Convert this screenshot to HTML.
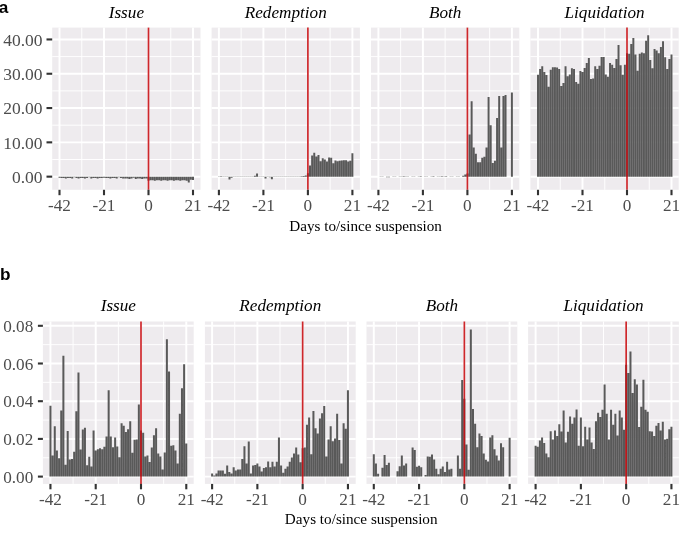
<!DOCTYPE html>
<html lang="en"><head><meta charset="utf-8"><title>Figure</title>
<style>
html,body{margin:0;padding:0;background:#fff;}
body{width:685px;height:535px;overflow:hidden;}
svg{display:block;}
.tl{font-family:"Liberation Serif",serif;font-size:17.2px;fill:#4D4D4D;}
.st{font-family:"Liberation Serif",serif;font-style:italic;font-size:17px;fill:#000;}
.at{font-family:"Liberation Serif",serif;font-size:15.2px;fill:#000;}
.pl{font-family:"Liberation Sans",sans-serif;font-weight:bold;font-size:17.2px;fill:#000;}
</style></head><body>
<svg width="685" height="535" viewBox="0 0 685 535">
<rect width="685" height="535" fill="#fff"/>
<rect x="52.2" y="27.6" width="148.3" height="162.2" fill="#EEEBEE"/>
<line x1="52.2" x2="200.5" y1="159.5" y2="159.5" stroke="#fff" stroke-width="0.95"/>
<line x1="52.2" x2="200.5" y1="125.2" y2="125.2" stroke="#fff" stroke-width="0.95"/>
<line x1="52.2" x2="200.5" y1="90.9" y2="90.9" stroke="#fff" stroke-width="0.95"/>
<line x1="52.2" x2="200.5" y1="56.6" y2="56.6" stroke="#fff" stroke-width="0.95"/>
<line x1="81.75" x2="81.75" y1="27.6" y2="189.8" stroke="#fff" stroke-width="0.95"/>
<line x1="126.25" x2="126.25" y1="27.6" y2="189.8" stroke="#fff" stroke-width="0.95"/>
<line x1="170.75" x2="170.75" y1="27.6" y2="189.8" stroke="#fff" stroke-width="0.95"/>
<line x1="52.2" x2="200.5" y1="176.65" y2="176.65" stroke="#fff" stroke-width="1.95"/>
<line x1="52.2" x2="200.5" y1="142.35" y2="142.35" stroke="#fff" stroke-width="1.95"/>
<line x1="52.2" x2="200.5" y1="108.05" y2="108.05" stroke="#fff" stroke-width="1.95"/>
<line x1="52.2" x2="200.5" y1="73.75" y2="73.75" stroke="#fff" stroke-width="1.95"/>
<line x1="52.2" x2="200.5" y1="39.45" y2="39.45" stroke="#fff" stroke-width="1.95"/>
<line x1="59.5" x2="59.5" y1="27.6" y2="189.8" stroke="#fff" stroke-width="1.95"/>
<line x1="104" x2="104" y1="27.6" y2="189.8" stroke="#fff" stroke-width="1.95"/>
<line x1="148.5" x2="148.5" y1="27.6" y2="189.8" stroke="#fff" stroke-width="1.95"/>
<line x1="193" x2="193" y1="27.6" y2="189.8" stroke="#fff" stroke-width="1.95"/>
<path d="M58.52 176.65h1.97v1.1h-1.97zM60.64 176.65h1.97v1.3h-1.97zM62.75 176.65h1.97v1.3h-1.97zM64.87 176.65h1.97v1.78h-1.97zM66.99 176.65h1.97v1.3h-1.97zM69.11 176.65h1.97v1.3h-1.97zM71.23 176.65h1.97v1.78h-1.97zM73.35 176.65h1.97v0.62h-1.97zM75.47 176.65h1.97v1.3h-1.97zM77.59 176.65h1.97v1.78h-1.97zM79.71 176.65h1.97v1.3h-1.97zM81.83 176.65h1.97v1.3h-1.97zM83.94 176.65h1.97v1.78h-1.97zM86.06 176.65h1.97v1.3h-1.97zM88.18 176.65h1.97v0.62h-1.97zM90.3 176.65h1.97v1.78h-1.97zM92.42 176.65h1.97v1.3h-1.97zM94.54 176.65h1.97v1.3h-1.97zM96.66 176.65h1.97v1.78h-1.97zM98.78 176.65h1.97v1.3h-1.97zM100.9 176.65h1.97v1.3h-1.97zM103.02 176.65h1.97v1.1h-1.97zM105.13 176.65h1.97v1.3h-1.97zM107.25 176.65h1.97v1.3h-1.97zM109.37 176.65h1.97v1.78h-1.97zM111.49 176.65h1.97v1.3h-1.97zM113.61 176.65h1.97v1.3h-1.97zM115.73 176.65h1.97v1.78h-1.97zM117.85 176.65h1.97v0.62h-1.97zM119.97 176.65h1.97v1.3h-1.97zM122.09 176.65h1.97v1.78h-1.97zM124.21 176.65h1.97v1.82h-1.97zM126.32 176.65h1.97v1.82h-1.97zM128.44 176.65h1.97v2.3h-1.97zM130.56 176.65h1.97v1.82h-1.97zM132.68 176.65h1.97v1.13h-1.97zM134.8 176.65h1.97v2.3h-1.97zM136.92 176.65h1.97v1.82h-1.97zM139.04 176.65h1.97v1.82h-1.97zM141.16 176.65h1.97v2.3h-1.97zM143.28 176.65h1.97v1.82h-1.97zM145.4 176.65h1.97v1.82h-1.97zM147.51 176.65h1.97v4.12h-1.97zM149.63 176.65h1.97v3.6h-1.97zM151.75 176.65h1.97v3.6h-1.97zM153.87 176.65h1.97v4.12h-1.97zM155.99 176.65h1.97v3.6h-1.97zM158.11 176.65h1.97v3.6h-1.97zM160.23 176.65h1.97v4.12h-1.97zM162.35 176.65h1.97v3.6h-1.97zM164.47 176.65h1.97v3.6h-1.97zM166.59 176.65h1.97v4.12h-1.97zM168.7 176.65h1.97v3.6h-1.97zM170.82 176.65h1.97v3.6h-1.97zM172.94 176.65h1.97v4.12h-1.97zM175.06 176.65h1.97v3.6h-1.97zM177.18 176.65h1.97v3.6h-1.97zM179.3 176.65h1.97v4.12h-1.97zM181.42 176.65h1.97v3.6h-1.97zM183.54 176.65h1.97v3.6h-1.97zM185.66 176.65h1.97v4.12h-1.97zM187.78 176.65h1.97v5.83h-1.97zM189.89 176.65h1.97v3.09h-1.97zM192.01 176.65h1.97v3.43h-1.97z" fill="#595959"/>
<line x1="148.5" x2="148.5" y1="27.6" y2="189.8" stroke="#C80F14" stroke-opacity="0.9" stroke-width="1.7"/>
<line x1="59.5" x2="59.5" y1="189.8" y2="195.2" stroke="#333333" stroke-width="2.1"/>
<text transform="translate(59.5 211) scale(1.0 1.0)" text-anchor="middle" class="tl">-42</text>
<line x1="104" x2="104" y1="189.8" y2="195.2" stroke="#333333" stroke-width="2.1"/>
<text transform="translate(104 211) scale(1.0 1.0)" text-anchor="middle" class="tl">-21</text>
<line x1="148.5" x2="148.5" y1="189.8" y2="195.2" stroke="#333333" stroke-width="2.1"/>
<text transform="translate(148.5 211) scale(1.0 1.0)" text-anchor="middle" class="tl">0</text>
<line x1="193" x2="193" y1="189.8" y2="195.2" stroke="#333333" stroke-width="2.1"/>
<text transform="translate(193 211) scale(1.0 1.0)" text-anchor="middle" class="tl">21</text>
<text transform="translate(126.35 17.6) scale(1.01 1.02)" text-anchor="middle" class="st">Issue</text>
<rect x="211.6" y="27.6" width="148.3" height="162.2" fill="#EEEBEE"/>
<line x1="211.6" x2="359.9" y1="159.5" y2="159.5" stroke="#fff" stroke-width="0.95"/>
<line x1="211.6" x2="359.9" y1="125.2" y2="125.2" stroke="#fff" stroke-width="0.95"/>
<line x1="211.6" x2="359.9" y1="90.9" y2="90.9" stroke="#fff" stroke-width="0.95"/>
<line x1="211.6" x2="359.9" y1="56.6" y2="56.6" stroke="#fff" stroke-width="0.95"/>
<line x1="241.15" x2="241.15" y1="27.6" y2="189.8" stroke="#fff" stroke-width="0.95"/>
<line x1="285.65" x2="285.65" y1="27.6" y2="189.8" stroke="#fff" stroke-width="0.95"/>
<line x1="330.15" x2="330.15" y1="27.6" y2="189.8" stroke="#fff" stroke-width="0.95"/>
<line x1="211.6" x2="359.9" y1="176.65" y2="176.65" stroke="#fff" stroke-width="1.95"/>
<line x1="211.6" x2="359.9" y1="142.35" y2="142.35" stroke="#fff" stroke-width="1.95"/>
<line x1="211.6" x2="359.9" y1="108.05" y2="108.05" stroke="#fff" stroke-width="1.95"/>
<line x1="211.6" x2="359.9" y1="73.75" y2="73.75" stroke="#fff" stroke-width="1.95"/>
<line x1="211.6" x2="359.9" y1="39.45" y2="39.45" stroke="#fff" stroke-width="1.95"/>
<line x1="218.9" x2="218.9" y1="27.6" y2="189.8" stroke="#fff" stroke-width="1.95"/>
<line x1="263.4" x2="263.4" y1="27.6" y2="189.8" stroke="#fff" stroke-width="1.95"/>
<line x1="307.9" x2="307.9" y1="27.6" y2="189.8" stroke="#fff" stroke-width="1.95"/>
<line x1="352.4" x2="352.4" y1="27.6" y2="189.8" stroke="#fff" stroke-width="1.95"/>
<path d="M217.92 176.38h1.97v0.27h-1.97zM220.04 176.31h1.97v0.34h-1.97zM222.15 176.65h1.97v0.34h-1.97zM224.27 176.38h1.97v0.27h-1.97zM226.39 176.38h1.97v0.27h-1.97zM228.51 176.65h1.97v2.74h-1.97zM230.63 176.65h1.97v1.03h-1.97zM232.75 176.38h1.97v0.27h-1.97zM234.87 176.38h1.97v0.27h-1.97zM236.99 176.38h1.97v0.27h-1.97zM239.11 176.65h1.97v0.27h-1.97zM241.23 176.38h1.97v0.27h-1.97zM243.34 176.38h1.97v0.27h-1.97zM245.46 176.38h1.97v0.27h-1.97zM247.58 176.65h1.97v0.27h-1.97zM249.7 176.38h1.97v0.27h-1.97zM251.82 176.38h1.97v0.27h-1.97zM253.94 175.79h1.97v0.86h-1.97zM256.06 173.56h1.97v3.09h-1.97zM258.18 176.38h1.97v0.27h-1.97zM260.3 176.38h1.97v0.27h-1.97zM262.42 176.38h1.97v0.27h-1.97zM264.53 176.65h1.97v1.89h-1.97zM266.65 176.38h1.97v0.27h-1.97zM268.77 176.65h1.97v0.69h-1.97zM270.89 176.65h1.97v2.57h-1.97zM273.01 176.65h1.97v0.27h-1.97zM275.13 176.38h1.97v0.27h-1.97zM277.25 176.38h1.97v0.27h-1.97zM279.37 176.38h1.97v0.27h-1.97zM281.49 176.65h1.97v0.27h-1.97zM283.61 176.38h1.97v0.27h-1.97zM285.72 176.38h1.97v0.27h-1.97zM287.84 176.38h1.97v0.27h-1.97zM289.96 176.65h1.97v0.27h-1.97zM292.08 176.38h1.97v0.27h-1.97zM294.2 176.38h1.97v0.27h-1.97zM296.32 176.38h1.97v0.27h-1.97zM298.44 176.65h1.97v0.27h-1.97zM300.56 176.24h1.97v0.41h-1.97zM302.68 176.03h1.97v0.62h-1.97zM304.8 175.62h1.97v1.03h-1.97zM306.91 173.22h1.97v3.43h-1.97zM309.03 165.5h1.97v11.15h-1.97zM311.15 155.38h1.97v21.27h-1.97zM313.27 152.64h1.97v24.01h-1.97zM315.39 156.41h1.97v20.24h-1.97zM317.51 155.04h1.97v21.61h-1.97zM319.63 161.22h1.97v15.44h-1.97zM321.75 158.3h1.97v18.35h-1.97zM323.87 159.5h1.97v17.15h-1.97zM325.99 161.56h1.97v15.09h-1.97zM328.1 157.44h1.97v19.21h-1.97zM330.22 157.78h1.97v18.87h-1.97zM332.34 163.27h1.97v13.38h-1.97zM334.46 160.53h1.97v16.12h-1.97zM336.58 161.22h1.97v15.44h-1.97zM338.7 160.87h1.97v15.78h-1.97zM340.82 160.53h1.97v16.12h-1.97zM342.94 160.36h1.97v16.29h-1.97zM345.06 160.19h1.97v16.46h-1.97zM347.18 161.56h1.97v15.09h-1.97zM349.29 160.87h1.97v15.78h-1.97zM351.41 153.33h1.97v23.32h-1.97z" fill="#595959"/>
<line x1="307.9" x2="307.9" y1="27.6" y2="189.8" stroke="#C80F14" stroke-opacity="0.9" stroke-width="1.7"/>
<line x1="218.9" x2="218.9" y1="189.8" y2="195.2" stroke="#333333" stroke-width="2.1"/>
<text transform="translate(218.9 211) scale(1.0 1.0)" text-anchor="middle" class="tl">-42</text>
<line x1="263.4" x2="263.4" y1="189.8" y2="195.2" stroke="#333333" stroke-width="2.1"/>
<text transform="translate(263.4 211) scale(1.0 1.0)" text-anchor="middle" class="tl">-21</text>
<line x1="307.9" x2="307.9" y1="189.8" y2="195.2" stroke="#333333" stroke-width="2.1"/>
<text transform="translate(307.9 211) scale(1.0 1.0)" text-anchor="middle" class="tl">0</text>
<line x1="352.4" x2="352.4" y1="189.8" y2="195.2" stroke="#333333" stroke-width="2.1"/>
<text transform="translate(352.4 211) scale(1.0 1.0)" text-anchor="middle" class="tl">21</text>
<text transform="translate(285.75 17.6) scale(1.01 1.02)" text-anchor="middle" class="st">Redemption</text>
<rect x="371" y="27.6" width="148.3" height="162.2" fill="#EEEBEE"/>
<line x1="371" x2="519.3" y1="159.5" y2="159.5" stroke="#fff" stroke-width="0.95"/>
<line x1="371" x2="519.3" y1="125.2" y2="125.2" stroke="#fff" stroke-width="0.95"/>
<line x1="371" x2="519.3" y1="90.9" y2="90.9" stroke="#fff" stroke-width="0.95"/>
<line x1="371" x2="519.3" y1="56.6" y2="56.6" stroke="#fff" stroke-width="0.95"/>
<line x1="400.65" x2="400.65" y1="27.6" y2="189.8" stroke="#fff" stroke-width="0.95"/>
<line x1="445.15" x2="445.15" y1="27.6" y2="189.8" stroke="#fff" stroke-width="0.95"/>
<line x1="489.65" x2="489.65" y1="27.6" y2="189.8" stroke="#fff" stroke-width="0.95"/>
<line x1="371" x2="519.3" y1="176.65" y2="176.65" stroke="#fff" stroke-width="1.95"/>
<line x1="371" x2="519.3" y1="142.35" y2="142.35" stroke="#fff" stroke-width="1.95"/>
<line x1="371" x2="519.3" y1="108.05" y2="108.05" stroke="#fff" stroke-width="1.95"/>
<line x1="371" x2="519.3" y1="73.75" y2="73.75" stroke="#fff" stroke-width="1.95"/>
<line x1="371" x2="519.3" y1="39.45" y2="39.45" stroke="#fff" stroke-width="1.95"/>
<line x1="378.4" x2="378.4" y1="27.6" y2="189.8" stroke="#fff" stroke-width="1.95"/>
<line x1="422.9" x2="422.9" y1="27.6" y2="189.8" stroke="#fff" stroke-width="1.95"/>
<line x1="467.4" x2="467.4" y1="27.6" y2="189.8" stroke="#fff" stroke-width="1.95"/>
<line x1="511.9" x2="511.9" y1="27.6" y2="189.8" stroke="#fff" stroke-width="1.95"/>
<path d="M377.42 176.65h1.97v0.21h-1.97zM379.54 176.44h1.97v0.21h-1.97zM381.65 176.44h1.97v0.21h-1.97zM383.77 176.65h1.97v0.21h-1.97zM385.89 176.65h1.97v0.69h-1.97zM388.01 176.65h1.97v0.51h-1.97zM390.13 176.65h1.97v0.21h-1.97zM392.25 176.44h1.97v0.21h-1.97zM394.37 176.44h1.97v0.21h-1.97zM396.49 176.65h1.97v0.21h-1.97zM398.61 176.44h1.97v0.21h-1.97zM400.73 176.44h1.97v0.21h-1.97zM402.84 176.24h1.97v0.41h-1.97zM404.96 176.44h1.97v0.21h-1.97zM407.08 176.65h1.97v0.34h-1.97zM409.2 176.65h1.97v0.21h-1.97zM411.32 176.44h1.97v0.21h-1.97zM413.44 176.44h1.97v0.21h-1.97zM415.56 176.65h1.97v0.21h-1.97zM417.68 176.44h1.97v0.21h-1.97zM419.8 176.31h1.97v0.34h-1.97zM421.92 176.65h1.97v0.21h-1.97zM424.03 176.44h1.97v0.21h-1.97zM426.15 176.44h1.97v0.21h-1.97zM428.27 176.65h1.97v0.21h-1.97zM430.39 176.44h1.97v0.21h-1.97zM432.51 176.24h1.97v0.41h-1.97zM434.63 176.65h1.97v0.21h-1.97zM436.75 176.44h1.97v0.21h-1.97zM438.87 176.44h1.97v0.21h-1.97zM440.99 176.31h1.97v0.34h-1.97zM443.11 176.44h1.97v0.21h-1.97zM445.22 176.14h1.97v0.51h-1.97zM447.34 176.65h1.97v0.21h-1.97zM449.46 176.44h1.97v0.21h-1.97zM451.58 176.44h1.97v0.21h-1.97zM453.7 176.65h1.97v0.21h-1.97zM455.82 176.44h1.97v0.21h-1.97zM457.94 176.44h1.97v0.21h-1.97zM460.06 176.65h1.97v0.21h-1.97zM462.18 175.79h1.97v0.86h-1.97zM464.3 174.42h1.97v2.23h-1.97zM466.41 173.56h1.97v3.09h-1.97zM468.53 134.46h1.97v42.19h-1.97zM470.65 101.19h1.97v75.46h-1.97zM472.77 147.5h1.97v29.16h-1.97zM474.89 153.67h1.97v22.98h-1.97zM477.01 162.24h1.97v14.41h-1.97zM479.13 162.24h1.97v14.41h-1.97zM481.25 157.78h1.97v18.87h-1.97zM483.37 156.76h1.97v19.89h-1.97zM485.49 147.5h1.97v29.16h-1.97zM487.6 97.07h1.97v79.58h-1.97zM489.72 125.2h1.97v51.45h-1.97zM491.84 162.93h1.97v13.72h-1.97zM493.96 160.87h1.97v15.78h-1.97zM496.08 118h1.97v58.65h-1.97zM498.2 96.05h1.97v80.61h-1.97zM500.32 147.5h1.97v29.16h-1.97zM502.44 96.05h1.97v80.61h-1.97zM504.56 95.02h1.97v81.63h-1.97zM510.91 92.61h1.97v84.04h-1.97z" fill="#595959"/>
<line x1="467.4" x2="467.4" y1="27.6" y2="189.8" stroke="#C80F14" stroke-opacity="0.9" stroke-width="1.7"/>
<line x1="378.4" x2="378.4" y1="189.8" y2="195.2" stroke="#333333" stroke-width="2.1"/>
<text transform="translate(378.4 211) scale(1.0 1.0)" text-anchor="middle" class="tl">-42</text>
<line x1="422.9" x2="422.9" y1="189.8" y2="195.2" stroke="#333333" stroke-width="2.1"/>
<text transform="translate(422.9 211) scale(1.0 1.0)" text-anchor="middle" class="tl">-21</text>
<line x1="467.4" x2="467.4" y1="189.8" y2="195.2" stroke="#333333" stroke-width="2.1"/>
<text transform="translate(467.4 211) scale(1.0 1.0)" text-anchor="middle" class="tl">0</text>
<line x1="511.9" x2="511.9" y1="189.8" y2="195.2" stroke="#333333" stroke-width="2.1"/>
<text transform="translate(511.9 211) scale(1.0 1.0)" text-anchor="middle" class="tl">21</text>
<text transform="translate(445.15 17.6) scale(1.01 1.02)" text-anchor="middle" class="st">Both</text>
<rect x="530.4" y="27.6" width="148.3" height="162.2" fill="#EEEBEE"/>
<line x1="530.4" x2="678.7" y1="159.5" y2="159.5" stroke="#fff" stroke-width="0.95"/>
<line x1="530.4" x2="678.7" y1="125.2" y2="125.2" stroke="#fff" stroke-width="0.95"/>
<line x1="530.4" x2="678.7" y1="90.9" y2="90.9" stroke="#fff" stroke-width="0.95"/>
<line x1="530.4" x2="678.7" y1="56.6" y2="56.6" stroke="#fff" stroke-width="0.95"/>
<line x1="560.25" x2="560.25" y1="27.6" y2="189.8" stroke="#fff" stroke-width="0.95"/>
<line x1="604.75" x2="604.75" y1="27.6" y2="189.8" stroke="#fff" stroke-width="0.95"/>
<line x1="649.25" x2="649.25" y1="27.6" y2="189.8" stroke="#fff" stroke-width="0.95"/>
<line x1="530.4" x2="678.7" y1="176.65" y2="176.65" stroke="#fff" stroke-width="1.95"/>
<line x1="530.4" x2="678.7" y1="142.35" y2="142.35" stroke="#fff" stroke-width="1.95"/>
<line x1="530.4" x2="678.7" y1="108.05" y2="108.05" stroke="#fff" stroke-width="1.95"/>
<line x1="530.4" x2="678.7" y1="73.75" y2="73.75" stroke="#fff" stroke-width="1.95"/>
<line x1="530.4" x2="678.7" y1="39.45" y2="39.45" stroke="#fff" stroke-width="1.95"/>
<line x1="538" x2="538" y1="27.6" y2="189.8" stroke="#fff" stroke-width="1.95"/>
<line x1="582.5" x2="582.5" y1="27.6" y2="189.8" stroke="#fff" stroke-width="1.95"/>
<line x1="627" x2="627" y1="27.6" y2="189.8" stroke="#fff" stroke-width="1.95"/>
<line x1="671.5" x2="671.5" y1="27.6" y2="189.8" stroke="#fff" stroke-width="1.95"/>
<path d="M537.02 74.78h1.97v101.87h-1.97zM539.14 68.95h1.97v107.7h-1.97zM541.25 66.2h1.97v110.45h-1.97zM543.37 72.03h1.97v104.62h-1.97zM545.49 75.12h1.97v101.53h-1.97zM547.61 86.78h1.97v89.87h-1.97zM549.73 69.63h1.97v107.02h-1.97zM551.85 67.23h1.97v109.42h-1.97zM553.97 67.23h1.97v109.42h-1.97zM556.09 67.58h1.97v109.07h-1.97zM558.21 68.95h1.97v107.7h-1.97zM560.33 86.1h1.97v90.55h-1.97zM562.44 83.01h1.97v93.64h-1.97zM564.56 66.2h1.97v110.45h-1.97zM566.68 76.15h1.97v100.5h-1.97zM568.8 74.44h1.97v102.21h-1.97zM570.92 68.26h1.97v108.39h-1.97zM573.04 68.95h1.97v107.7h-1.97zM575.16 81.98h1.97v94.67h-1.97zM577.28 83.7h1.97v92.95h-1.97zM579.4 71.01h1.97v105.64h-1.97zM581.52 72.03h1.97v104.62h-1.97zM583.63 67.92h1.97v108.73h-1.97zM585.75 63.12h1.97v113.53h-1.97zM587.87 57.97h1.97v118.68h-1.97zM589.99 78.89h1.97v97.76h-1.97zM592.11 78.55h1.97v98.1h-1.97zM594.23 66.2h1.97v110.45h-1.97zM596.35 68.95h1.97v107.7h-1.97zM598.47 65.86h1.97v110.79h-1.97zM600.59 56.94h1.97v119.71h-1.97zM602.71 56.94h1.97v119.71h-1.97zM604.82 74.44h1.97v102.21h-1.97zM606.94 76.84h1.97v99.81h-1.97zM609.06 63.12h1.97v113.53h-1.97zM611.18 64.83h1.97v111.82h-1.97zM613.3 67.92h1.97v108.73h-1.97zM615.42 59h1.97v117.65h-1.97zM617.54 44.94h1.97v131.71h-1.97zM619.66 65.17h1.97v111.48h-1.97zM621.78 74.78h1.97v101.87h-1.97zM623.9 64.83h1.97v111.82h-1.97zM626.01 53.17h1.97v123.48h-1.97zM628.13 53.86h1.97v122.79h-1.97zM630.25 43.91h1.97v132.74h-1.97zM632.37 38.08h1.97v138.57h-1.97zM634.49 54.54h1.97v122.11h-1.97zM636.61 70.66h1.97v105.99h-1.97zM638.73 53.86h1.97v122.79h-1.97zM640.85 52.48h1.97v124.17h-1.97zM642.97 53.17h1.97v123.48h-1.97zM645.09 40.82h1.97v135.83h-1.97zM647.2 35.33h1.97v141.32h-1.97zM649.32 60.03h1.97v116.62h-1.97zM651.44 68.26h1.97v108.39h-1.97zM653.56 49.05h1.97v127.6h-1.97zM655.68 50.43h1.97v126.22h-1.97zM657.8 53.17h1.97v123.48h-1.97zM659.92 47h1.97v129.65h-1.97zM662.04 41.16h1.97v135.49h-1.97zM664.16 57.29h1.97v119.36h-1.97zM666.28 68.95h1.97v107.7h-1.97zM668.39 59h1.97v117.65h-1.97zM670.51 54.54h1.97v122.11h-1.97z" fill="#595959"/>
<line x1="627" x2="627" y1="27.6" y2="189.8" stroke="#C80F14" stroke-opacity="0.9" stroke-width="1.7"/>
<line x1="538" x2="538" y1="189.8" y2="195.2" stroke="#333333" stroke-width="2.1"/>
<text transform="translate(538 211) scale(1.0 1.0)" text-anchor="middle" class="tl">-42</text>
<line x1="582.5" x2="582.5" y1="189.8" y2="195.2" stroke="#333333" stroke-width="2.1"/>
<text transform="translate(582.5 211) scale(1.0 1.0)" text-anchor="middle" class="tl">-21</text>
<line x1="627" x2="627" y1="189.8" y2="195.2" stroke="#333333" stroke-width="2.1"/>
<text transform="translate(627 211) scale(1.0 1.0)" text-anchor="middle" class="tl">0</text>
<line x1="671.5" x2="671.5" y1="189.8" y2="195.2" stroke="#333333" stroke-width="2.1"/>
<text transform="translate(671.5 211) scale(1.0 1.0)" text-anchor="middle" class="tl">21</text>
<text transform="translate(604.55 17.6) scale(1.01 1.02)" text-anchor="middle" class="st">Liquidation</text>
<line x1="46.5" x2="52.2" y1="176.65" y2="176.65" stroke="#333333" stroke-width="2.1"/>
<text transform="translate(42.6 182.85) scale(1.018 1.025)" text-anchor="end" class="tl">0.00</text>
<line x1="46.5" x2="52.2" y1="142.35" y2="142.35" stroke="#333333" stroke-width="2.1"/>
<text transform="translate(42.6 148.55) scale(1.018 1.025)" text-anchor="end" class="tl">10.00</text>
<line x1="46.5" x2="52.2" y1="108.05" y2="108.05" stroke="#333333" stroke-width="2.1"/>
<text transform="translate(42.6 114.25) scale(1.018 1.025)" text-anchor="end" class="tl">20.00</text>
<line x1="46.5" x2="52.2" y1="73.75" y2="73.75" stroke="#333333" stroke-width="2.1"/>
<text transform="translate(42.6 79.95) scale(1.018 1.025)" text-anchor="end" class="tl">30.00</text>
<line x1="46.5" x2="52.2" y1="39.45" y2="39.45" stroke="#333333" stroke-width="2.1"/>
<text transform="translate(42.6 45.65) scale(1.018 1.025)" text-anchor="end" class="tl">40.00</text>
<text transform="translate(365.6 230.7) scale(1.0 0.99)" text-anchor="middle" class="at">Days to/since suspension</text>
<rect x="42.9" y="321.5" width="150.8" height="162.4" fill="#EEEBEE"/>
<line x1="42.9" x2="193.7" y1="457.75" y2="457.75" stroke="#fff" stroke-width="0.95"/>
<line x1="42.9" x2="193.7" y1="420.05" y2="420.05" stroke="#fff" stroke-width="0.95"/>
<line x1="42.9" x2="193.7" y1="382.35" y2="382.35" stroke="#fff" stroke-width="0.95"/>
<line x1="42.9" x2="193.7" y1="344.65" y2="344.65" stroke="#fff" stroke-width="0.95"/>
<line x1="73.09" x2="73.09" y1="321.5" y2="483.9" stroke="#fff" stroke-width="0.95"/>
<line x1="118.36" x2="118.36" y1="321.5" y2="483.9" stroke="#fff" stroke-width="0.95"/>
<line x1="163.64" x2="163.64" y1="321.5" y2="483.9" stroke="#fff" stroke-width="0.95"/>
<line x1="42.9" x2="193.7" y1="476.6" y2="476.6" stroke="#fff" stroke-width="1.95"/>
<line x1="42.9" x2="193.7" y1="438.9" y2="438.9" stroke="#fff" stroke-width="1.95"/>
<line x1="42.9" x2="193.7" y1="401.2" y2="401.2" stroke="#fff" stroke-width="1.95"/>
<line x1="42.9" x2="193.7" y1="363.5" y2="363.5" stroke="#fff" stroke-width="1.95"/>
<line x1="42.9" x2="193.7" y1="325.8" y2="325.8" stroke="#fff" stroke-width="1.95"/>
<line x1="50.45" x2="50.45" y1="321.5" y2="483.9" stroke="#fff" stroke-width="1.95"/>
<line x1="95.72" x2="95.72" y1="321.5" y2="483.9" stroke="#fff" stroke-width="1.95"/>
<line x1="141" x2="141" y1="321.5" y2="483.9" stroke="#fff" stroke-width="1.95"/>
<line x1="186.28" x2="186.28" y1="321.5" y2="483.9" stroke="#fff" stroke-width="1.95"/>
<path d="M49.45 405.72h2.01v70.88h-2.01zM51.6 455.49h2.01v21.11h-2.01zM53.76 426.27h2.01v50.33h-2.01zM55.91 450.4h2.01v26.2h-2.01zM58.07 458.32h2.01v18.28h-2.01zM60.23 410.44h2.01v66.16h-2.01zM62.38 355.77h2.01v120.83h-2.01zM64.54 464.72h2.01v11.88h-2.01zM66.69 430.98h2.01v45.62h-2.01zM68.85 459.45h2.01v17.15h-2.01zM71.01 459.07h2.01v17.53h-2.01zM73.16 451.72h2.01v24.88h-2.01zM75.32 411.19h2.01v65.41h-2.01zM77.47 372.55h2.01v104.05h-2.01zM79.63 449.46h2.01v27.14h-2.01zM81.79 429.48h2.01v47.12h-2.01zM83.94 427.78h2.01v48.82h-2.01zM86.1 465.29h2.01v11.31h-2.01zM88.25 456.81h2.01v19.79h-2.01zM90.41 466.42h2.01v10.18h-2.01zM92.57 430.61h2.01v45.99h-2.01zM94.72 450.4h2.01v26.2h-2.01zM96.88 449.27h2.01v27.33h-2.01zM99.03 448.33h2.01v28.27h-2.01zM101.19 449.27h2.01v27.33h-2.01zM103.35 446.82h2.01v29.78h-2.01zM105.5 436.45h2.01v40.15h-2.01zM107.66 390.27h2.01v86.33h-2.01zM109.81 436.45h2.01v40.15h-2.01zM111.97 447.19h2.01v29.41h-2.01zM114.13 437.39h2.01v39.21h-2.01zM116.28 446.44h2.01v30.16h-2.01zM118.44 457.18h2.01v19.42h-2.01zM120.59 423.25h2.01v53.35h-2.01zM122.75 425.71h2.01v50.89h-2.01zM124.91 432.11h2.01v44.49h-2.01zM127.06 429.29h2.01v47.31h-2.01zM129.22 421.37h2.01v55.23h-2.01zM131.37 452.85h2.01v23.75h-2.01zM133.53 439.65h2.01v36.95h-2.01zM135.69 439.47h2.01v37.13h-2.01zM137.84 404.4h2.01v72.2h-2.01zM140 430.61h2.01v45.99h-2.01zM142.15 432.87h2.01v43.73h-2.01zM144.31 456.43h2.01v20.17h-2.01zM146.47 455.49h2.01v21.11h-2.01zM148.62 461.9h2.01v14.7h-2.01zM150.78 447.38h2.01v29.22h-2.01zM152.93 435.13h2.01v41.47h-2.01zM155.09 428.16h2.01v48.44h-2.01zM157.25 453.41h2.01v23.19h-2.01zM159.4 456.43h2.01v20.17h-2.01zM161.56 469.44h2.01v7.16h-2.01zM163.71 452.47h2.01v24.13h-2.01zM165.87 339.18h2.01v137.42h-2.01zM168.03 371.42h2.01v105.18h-2.01zM170.18 445.69h2.01v30.91h-2.01zM172.34 445.31h2.01v31.29h-2.01zM174.49 450.4h2.01v26.2h-2.01zM176.65 463.41h2.01v13.2h-2.01zM178.81 413.64h2.01v62.96h-2.01zM180.96 388.19h2.01v88.41h-2.01zM183.12 364.25h2.01v112.35h-2.01zM185.27 443.61h2.01v32.99h-2.01z" fill="#595959"/>
<line x1="141" x2="141" y1="321.5" y2="483.9" stroke="#C80F14" stroke-opacity="0.9" stroke-width="1.7"/>
<line x1="50.45" x2="50.45" y1="483.9" y2="489.3" stroke="#333333" stroke-width="2.1"/>
<text transform="translate(50.45 504.6) scale(1.0 1.0)" text-anchor="middle" class="tl">-42</text>
<line x1="95.72" x2="95.72" y1="483.9" y2="489.3" stroke="#333333" stroke-width="2.1"/>
<text transform="translate(95.72 504.6) scale(1.0 1.0)" text-anchor="middle" class="tl">-21</text>
<line x1="141" x2="141" y1="483.9" y2="489.3" stroke="#333333" stroke-width="2.1"/>
<text transform="translate(141 504.6) scale(1.0 1.0)" text-anchor="middle" class="tl">0</text>
<line x1="186.28" x2="186.28" y1="483.9" y2="489.3" stroke="#333333" stroke-width="2.1"/>
<text transform="translate(186.28 504.6) scale(1.0 1.0)" text-anchor="middle" class="tl">21</text>
<text transform="translate(118.3 311.2) scale(1.01 1.02)" text-anchor="middle" class="st">Issue</text>
<rect x="204.9" y="321.5" width="150.8" height="162.4" fill="#EEEBEE"/>
<line x1="204.9" x2="355.7" y1="457.75" y2="457.75" stroke="#fff" stroke-width="0.95"/>
<line x1="204.9" x2="355.7" y1="420.05" y2="420.05" stroke="#fff" stroke-width="0.95"/>
<line x1="204.9" x2="355.7" y1="382.35" y2="382.35" stroke="#fff" stroke-width="0.95"/>
<line x1="204.9" x2="355.7" y1="344.65" y2="344.65" stroke="#fff" stroke-width="0.95"/>
<line x1="234.74" x2="234.74" y1="321.5" y2="483.9" stroke="#fff" stroke-width="0.95"/>
<line x1="280.01" x2="280.01" y1="321.5" y2="483.9" stroke="#fff" stroke-width="0.95"/>
<line x1="325.29" x2="325.29" y1="321.5" y2="483.9" stroke="#fff" stroke-width="0.95"/>
<line x1="204.9" x2="355.7" y1="476.6" y2="476.6" stroke="#fff" stroke-width="1.95"/>
<line x1="204.9" x2="355.7" y1="438.9" y2="438.9" stroke="#fff" stroke-width="1.95"/>
<line x1="204.9" x2="355.7" y1="401.2" y2="401.2" stroke="#fff" stroke-width="1.95"/>
<line x1="204.9" x2="355.7" y1="363.5" y2="363.5" stroke="#fff" stroke-width="1.95"/>
<line x1="204.9" x2="355.7" y1="325.8" y2="325.8" stroke="#fff" stroke-width="1.95"/>
<line x1="212.1" x2="212.1" y1="321.5" y2="483.9" stroke="#fff" stroke-width="1.95"/>
<line x1="257.37" x2="257.37" y1="321.5" y2="483.9" stroke="#fff" stroke-width="1.95"/>
<line x1="302.65" x2="302.65" y1="321.5" y2="483.9" stroke="#fff" stroke-width="1.95"/>
<line x1="347.93" x2="347.93" y1="321.5" y2="483.9" stroke="#fff" stroke-width="1.95"/>
<path d="M211.1 473.58h2.01v3.02h-2.01zM213.25 475.47h2.01v1.13h-2.01zM215.41 473.4h2.01v3.2h-2.01zM217.56 470.57h2.01v6.03h-2.01zM219.72 470.57h2.01v6.03h-2.01zM221.88 470.57h2.01v6.03h-2.01zM224.03 473.77h2.01v2.83h-2.01zM226.19 465.48h2.01v11.12h-2.01zM228.34 471.89h2.01v4.71h-2.01zM230.5 473.58h2.01v3.02h-2.01zM232.66 467.36h2.01v9.24h-2.01zM234.81 470.57h2.01v6.03h-2.01zM236.97 469.44h2.01v7.16h-2.01zM239.12 469.44h2.01v7.16h-2.01zM241.28 459.07h2.01v17.53h-2.01zM243.44 446.25h2.01v30.35h-2.01zM245.59 463.59h2.01v13.01h-2.01zM247.75 441.54h2.01v35.06h-2.01zM249.9 473.58h2.01v3.02h-2.01zM252.06 465.48h2.01v11.12h-2.01zM254.22 465.1h2.01v11.5h-2.01zM256.37 463.59h2.01v13.01h-2.01zM258.53 466.42h2.01v10.18h-2.01zM260.68 471.51h2.01v5.09h-2.01zM262.84 467.93h2.01v8.67h-2.01zM265 467.36h2.01v9.24h-2.01zM267.15 461.52h2.01v15.08h-2.01zM269.31 467.18h2.01v9.43h-2.01zM271.46 461.71h2.01v14.89h-2.01zM273.62 466.42h2.01v10.18h-2.01zM275.78 461.71h2.01v14.89h-2.01zM277.93 437.39h2.01v39.21h-2.01zM280.09 465.48h2.01v11.12h-2.01zM282.24 472.64h2.01v3.96h-2.01zM284.4 468.68h2.01v7.92h-2.01zM286.56 466.42h2.01v10.18h-2.01zM288.71 461.71h2.01v14.89h-2.01zM290.87 457.56h2.01v19.04h-2.01zM293.02 453.41h2.01v23.19h-2.01zM295.18 447.38h2.01v29.22h-2.01zM297.34 454.55h2.01v22.05h-2.01zM299.49 462.27h2.01v14.33h-2.01zM301.65 448.33h2.01v28.27h-2.01zM303.8 447.38h2.01v29.22h-2.01zM305.96 424.76h2.01v51.84h-2.01zM308.12 417.41h2.01v59.19h-2.01zM310.27 454.36h2.01v22.24h-2.01zM312.43 411h2.01v65.6h-2.01zM314.58 428.34h2.01v48.26h-2.01zM316.74 433.43h2.01v43.17h-2.01zM318.9 418.54h2.01v58.06h-2.01zM321.05 413.26h2.01v63.34h-2.01zM323.21 406.1h2.01v70.5h-2.01zM325.36 456.43h2.01v20.17h-2.01zM327.52 439.47h2.01v37.13h-2.01zM329.68 426.27h2.01v50.33h-2.01zM331.83 441.35h2.01v35.25h-2.01zM333.99 438.52h2.01v38.08h-2.01zM336.14 413.64h2.01v62.96h-2.01zM338.3 440.03h2.01v36.57h-2.01zM340.46 463.59h2.01v13.01h-2.01zM342.61 423.25h2.01v53.35h-2.01zM344.77 428.72h2.01v47.88h-2.01zM346.92 390.27h2.01v86.33h-2.01z" fill="#595959"/>
<line x1="302.65" x2="302.65" y1="321.5" y2="483.9" stroke="#C80F14" stroke-opacity="0.9" stroke-width="1.7"/>
<line x1="212.1" x2="212.1" y1="483.9" y2="489.3" stroke="#333333" stroke-width="2.1"/>
<text transform="translate(212.1 504.6) scale(1.0 1.0)" text-anchor="middle" class="tl">-42</text>
<line x1="257.37" x2="257.37" y1="483.9" y2="489.3" stroke="#333333" stroke-width="2.1"/>
<text transform="translate(257.37 504.6) scale(1.0 1.0)" text-anchor="middle" class="tl">-21</text>
<line x1="302.65" x2="302.65" y1="483.9" y2="489.3" stroke="#333333" stroke-width="2.1"/>
<text transform="translate(302.65 504.6) scale(1.0 1.0)" text-anchor="middle" class="tl">0</text>
<line x1="347.93" x2="347.93" y1="483.9" y2="489.3" stroke="#333333" stroke-width="2.1"/>
<text transform="translate(347.93 504.6) scale(1.0 1.0)" text-anchor="middle" class="tl">21</text>
<text transform="translate(280.3 311.2) scale(1.01 1.02)" text-anchor="middle" class="st">Redemption</text>
<rect x="366.5" y="321.5" width="150.8" height="162.4" fill="#EEEBEE"/>
<line x1="366.5" x2="517.3" y1="457.75" y2="457.75" stroke="#fff" stroke-width="0.95"/>
<line x1="366.5" x2="517.3" y1="420.05" y2="420.05" stroke="#fff" stroke-width="0.95"/>
<line x1="366.5" x2="517.3" y1="382.35" y2="382.35" stroke="#fff" stroke-width="0.95"/>
<line x1="366.5" x2="517.3" y1="344.65" y2="344.65" stroke="#fff" stroke-width="0.95"/>
<line x1="396.44" x2="396.44" y1="321.5" y2="483.9" stroke="#fff" stroke-width="0.95"/>
<line x1="441.71" x2="441.71" y1="321.5" y2="483.9" stroke="#fff" stroke-width="0.95"/>
<line x1="486.99" x2="486.99" y1="321.5" y2="483.9" stroke="#fff" stroke-width="0.95"/>
<line x1="366.5" x2="517.3" y1="476.6" y2="476.6" stroke="#fff" stroke-width="1.95"/>
<line x1="366.5" x2="517.3" y1="438.9" y2="438.9" stroke="#fff" stroke-width="1.95"/>
<line x1="366.5" x2="517.3" y1="401.2" y2="401.2" stroke="#fff" stroke-width="1.95"/>
<line x1="366.5" x2="517.3" y1="363.5" y2="363.5" stroke="#fff" stroke-width="1.95"/>
<line x1="366.5" x2="517.3" y1="325.8" y2="325.8" stroke="#fff" stroke-width="1.95"/>
<line x1="373.8" x2="373.8" y1="321.5" y2="483.9" stroke="#fff" stroke-width="1.95"/>
<line x1="419.07" x2="419.07" y1="321.5" y2="483.9" stroke="#fff" stroke-width="1.95"/>
<line x1="464.35" x2="464.35" y1="321.5" y2="483.9" stroke="#fff" stroke-width="1.95"/>
<line x1="509.63" x2="509.63" y1="321.5" y2="483.9" stroke="#fff" stroke-width="1.95"/>
<path d="M372.8 454.36h2.01v22.24h-2.01zM374.95 463.59h2.01v13.01h-2.01zM377.11 473.77h2.01v2.83h-2.01zM381.42 467.74h2.01v8.86h-2.01zM383.58 455.11h2.01v21.49h-2.01zM385.73 465.1h2.01v11.5h-2.01zM387.89 462.65h2.01v13.95h-2.01zM396.51 471.32h2.01v5.28h-2.01zM398.67 466.23h2.01v10.37h-2.01zM400.82 455.49h2.01v21.11h-2.01zM402.98 465.48h2.01v11.12h-2.01zM405.14 463.59h2.01v13.01h-2.01zM411.6 447.38h2.01v29.22h-2.01zM413.76 450.02h2.01v26.58h-2.01zM415.92 466.8h2.01v9.8h-2.01zM418.07 465.86h2.01v10.74h-2.01zM420.23 467.36h2.01v9.24h-2.01zM424.54 474.9h2.01v1.7h-2.01zM426.7 456.43h2.01v20.17h-2.01zM428.85 456.81h2.01v19.79h-2.01zM431.01 454.55h2.01v22.05h-2.01zM433.16 459.45h2.01v17.15h-2.01zM435.32 468.68h2.01v7.92h-2.01zM437.48 474.15h2.01v2.45h-2.01zM439.63 468.87h2.01v7.73h-2.01zM441.79 466.42h2.01v10.18h-2.01zM443.94 471.89h2.01v4.71h-2.01zM446.1 461.71h2.01v14.89h-2.01zM448.26 469.44h2.01v7.16h-2.01zM450.41 468.68h2.01v7.92h-2.01zM456.88 455.49h2.01v21.11h-2.01zM459.04 468.87h2.01v7.73h-2.01zM461.19 380.09h2.01v96.51h-2.01zM463.35 398.75h2.01v77.85h-2.01zM465.5 444.56h2.01v32.05h-2.01zM467.66 469.81h2.01v6.79h-2.01zM469.82 329.38h2.01v147.22h-2.01zM471.97 409.12h2.01v67.48h-2.01zM474.13 423.63h2.01v52.97h-2.01zM476.28 447.19h2.01v29.41h-2.01zM478.44 433.43h2.01v43.17h-2.01zM480.6 436.07h2.01v40.53h-2.01zM482.75 453.41h2.01v23.19h-2.01zM484.91 459.64h2.01v16.96h-2.01zM487.06 461.52h2.01v15.08h-2.01zM489.22 437.39h2.01v39.21h-2.01zM491.38 435.32h2.01v41.28h-2.01zM493.53 449.27h2.01v27.33h-2.01zM495.69 455.49h2.01v21.11h-2.01zM497.84 460.58h2.01v16.02h-2.01zM500 443.24h2.01v33.36h-2.01zM502.16 447.19h2.01v29.41h-2.01zM508.62 437.77h2.01v38.83h-2.01z" fill="#595959"/>
<line x1="464.35" x2="464.35" y1="321.5" y2="483.9" stroke="#C80F14" stroke-opacity="0.9" stroke-width="1.7"/>
<line x1="373.8" x2="373.8" y1="483.9" y2="489.3" stroke="#333333" stroke-width="2.1"/>
<text transform="translate(373.8 504.6) scale(1.0 1.0)" text-anchor="middle" class="tl">-42</text>
<line x1="419.07" x2="419.07" y1="483.9" y2="489.3" stroke="#333333" stroke-width="2.1"/>
<text transform="translate(419.07 504.6) scale(1.0 1.0)" text-anchor="middle" class="tl">-21</text>
<line x1="464.35" x2="464.35" y1="483.9" y2="489.3" stroke="#333333" stroke-width="2.1"/>
<text transform="translate(464.35 504.6) scale(1.0 1.0)" text-anchor="middle" class="tl">0</text>
<line x1="509.63" x2="509.63" y1="483.9" y2="489.3" stroke="#333333" stroke-width="2.1"/>
<text transform="translate(509.63 504.6) scale(1.0 1.0)" text-anchor="middle" class="tl">21</text>
<text transform="translate(441.9 311.2) scale(1.01 1.02)" text-anchor="middle" class="st">Both</text>
<rect x="528.1" y="321.5" width="150.8" height="162.4" fill="#EEEBEE"/>
<line x1="528.1" x2="678.9" y1="457.75" y2="457.75" stroke="#fff" stroke-width="0.95"/>
<line x1="528.1" x2="678.9" y1="420.05" y2="420.05" stroke="#fff" stroke-width="0.95"/>
<line x1="528.1" x2="678.9" y1="382.35" y2="382.35" stroke="#fff" stroke-width="0.95"/>
<line x1="528.1" x2="678.9" y1="344.65" y2="344.65" stroke="#fff" stroke-width="0.95"/>
<line x1="558.24" x2="558.24" y1="321.5" y2="483.9" stroke="#fff" stroke-width="0.95"/>
<line x1="603.51" x2="603.51" y1="321.5" y2="483.9" stroke="#fff" stroke-width="0.95"/>
<line x1="648.79" x2="648.79" y1="321.5" y2="483.9" stroke="#fff" stroke-width="0.95"/>
<line x1="528.1" x2="678.9" y1="476.6" y2="476.6" stroke="#fff" stroke-width="1.95"/>
<line x1="528.1" x2="678.9" y1="438.9" y2="438.9" stroke="#fff" stroke-width="1.95"/>
<line x1="528.1" x2="678.9" y1="401.2" y2="401.2" stroke="#fff" stroke-width="1.95"/>
<line x1="528.1" x2="678.9" y1="363.5" y2="363.5" stroke="#fff" stroke-width="1.95"/>
<line x1="528.1" x2="678.9" y1="325.8" y2="325.8" stroke="#fff" stroke-width="1.95"/>
<line x1="535.6" x2="535.6" y1="321.5" y2="483.9" stroke="#fff" stroke-width="1.95"/>
<line x1="580.87" x2="580.87" y1="321.5" y2="483.9" stroke="#fff" stroke-width="1.95"/>
<line x1="626.15" x2="626.15" y1="321.5" y2="483.9" stroke="#fff" stroke-width="1.95"/>
<line x1="671.43" x2="671.43" y1="321.5" y2="483.9" stroke="#fff" stroke-width="1.95"/>
<path d="M534.6 445.69h2.01v30.91h-2.01zM536.75 446.63h2.01v29.97h-2.01zM538.91 440.6h2.01v36h-2.01zM541.06 437.39h2.01v39.21h-2.01zM543.22 443.05h2.01v33.55h-2.01zM545.38 453.6h2.01v23h-2.01zM547.53 457.18h2.01v19.42h-2.01zM549.69 431.17h2.01v45.43h-2.01zM551.84 439.47h2.01v37.13h-2.01zM554 430.61h2.01v45.99h-2.01zM556.16 435.88h2.01v40.72h-2.01zM558.31 424.2h2.01v52.4h-2.01zM560.47 431.55h2.01v45.05h-2.01zM562.62 410.44h2.01v66.16h-2.01zM564.78 442.48h2.01v34.12h-2.01zM566.94 431.74h2.01v44.86h-2.01zM569.09 416.47h2.01v60.13h-2.01zM571.25 423.63h2.01v52.97h-2.01zM573.4 417.6h2.01v59h-2.01zM575.56 409.49h2.01v67.11h-2.01zM577.72 445.69h2.01v30.91h-2.01zM579.87 417.6h2.01v59h-2.01zM582.03 446.25h2.01v30.35h-2.01zM584.18 426.84h2.01v49.76h-2.01zM586.34 439.47h2.01v37.13h-2.01zM588.5 427.4h2.01v49.2h-2.01zM590.65 442.48h2.01v34.12h-2.01zM592.81 448.89h2.01v27.71h-2.01zM594.96 421.37h2.01v55.23h-2.01zM597.12 412.7h2.01v63.9h-2.01zM599.28 417.03h2.01v59.57h-2.01zM601.43 409.68h2.01v66.92h-2.01zM603.59 384.42h2.01v92.18h-2.01zM605.74 413.83h2.01v62.77h-2.01zM607.9 439.47h2.01v37.13h-2.01zM610.06 409.68h2.01v66.92h-2.01zM612.21 424.76h2.01v51.84h-2.01zM614.37 413.64h2.01v62.96h-2.01zM616.52 435.51h2.01v41.09h-2.01zM618.68 410.62h2.01v65.98h-2.01zM620.84 417.6h2.01v59h-2.01zM622.99 429.66h2.01v46.94h-2.01zM625.15 364.82h2.01v111.78h-2.01zM627.3 373.11h2.01v103.49h-2.01zM629.46 351.44h2.01v125.16h-2.01zM631.62 393.09h2.01v83.51h-2.01zM633.77 379.33h2.01v97.27h-2.01zM635.93 384.42h2.01v92.18h-2.01zM638.08 427.02h2.01v49.58h-2.01zM640.24 406.86h2.01v69.74h-2.01zM642.4 379.71h2.01v96.89h-2.01zM644.55 409.68h2.01v66.92h-2.01zM646.71 411.76h2.01v64.84h-2.01zM648.86 431.17h2.01v45.43h-2.01zM651.02 431.55h2.01v45.05h-2.01zM653.18 435.88h2.01v40.72h-2.01zM655.33 425.71h2.01v50.89h-2.01zM657.49 423.07h2.01v53.53h-2.01zM659.64 430.61h2.01v45.99h-2.01zM661.8 421.75h2.01v54.85h-2.01zM663.96 439.47h2.01v37.13h-2.01zM666.11 438.71h2.01v37.89h-2.01zM668.27 429.29h2.01v47.31h-2.01zM670.42 426.84h2.01v49.76h-2.01z" fill="#595959"/>
<line x1="626.15" x2="626.15" y1="321.5" y2="483.9" stroke="#C80F14" stroke-opacity="0.9" stroke-width="1.7"/>
<line x1="535.6" x2="535.6" y1="483.9" y2="489.3" stroke="#333333" stroke-width="2.1"/>
<text transform="translate(535.6 504.6) scale(1.0 1.0)" text-anchor="middle" class="tl">-42</text>
<line x1="580.87" x2="580.87" y1="483.9" y2="489.3" stroke="#333333" stroke-width="2.1"/>
<text transform="translate(580.87 504.6) scale(1.0 1.0)" text-anchor="middle" class="tl">-21</text>
<line x1="626.15" x2="626.15" y1="483.9" y2="489.3" stroke="#333333" stroke-width="2.1"/>
<text transform="translate(626.15 504.6) scale(1.0 1.0)" text-anchor="middle" class="tl">0</text>
<line x1="671.43" x2="671.43" y1="483.9" y2="489.3" stroke="#333333" stroke-width="2.1"/>
<text transform="translate(671.43 504.6) scale(1.0 1.0)" text-anchor="middle" class="tl">21</text>
<text transform="translate(603.5 311.2) scale(1.01 1.02)" text-anchor="middle" class="st">Liquidation</text>
<line x1="37.9" x2="42.9" y1="476.6" y2="476.6" stroke="#333333" stroke-width="2.1"/>
<text transform="translate(33.3 482.8) scale(1.0 1.025)" text-anchor="end" class="tl">0.00</text>
<line x1="37.9" x2="42.9" y1="438.9" y2="438.9" stroke="#333333" stroke-width="2.1"/>
<text transform="translate(33.3 445.1) scale(1.0 1.025)" text-anchor="end" class="tl">0.02</text>
<line x1="37.9" x2="42.9" y1="401.2" y2="401.2" stroke="#333333" stroke-width="2.1"/>
<text transform="translate(33.3 407.4) scale(1.0 1.025)" text-anchor="end" class="tl">0.04</text>
<line x1="37.9" x2="42.9" y1="363.5" y2="363.5" stroke="#333333" stroke-width="2.1"/>
<text transform="translate(33.3 369.7) scale(1.0 1.025)" text-anchor="end" class="tl">0.06</text>
<line x1="37.9" x2="42.9" y1="325.8" y2="325.8" stroke="#333333" stroke-width="2.1"/>
<text transform="translate(33.3 332) scale(1.0 1.025)" text-anchor="end" class="tl">0.08</text>
<text transform="translate(361.2 524.3) scale(1.0 0.99)" text-anchor="middle" class="at">Days to/since suspension</text>
<text x="-1.2" y="12.7" class="pl">a</text>
<text x="0" y="280.3" class="pl">b</text>
</svg>
</body></html>
